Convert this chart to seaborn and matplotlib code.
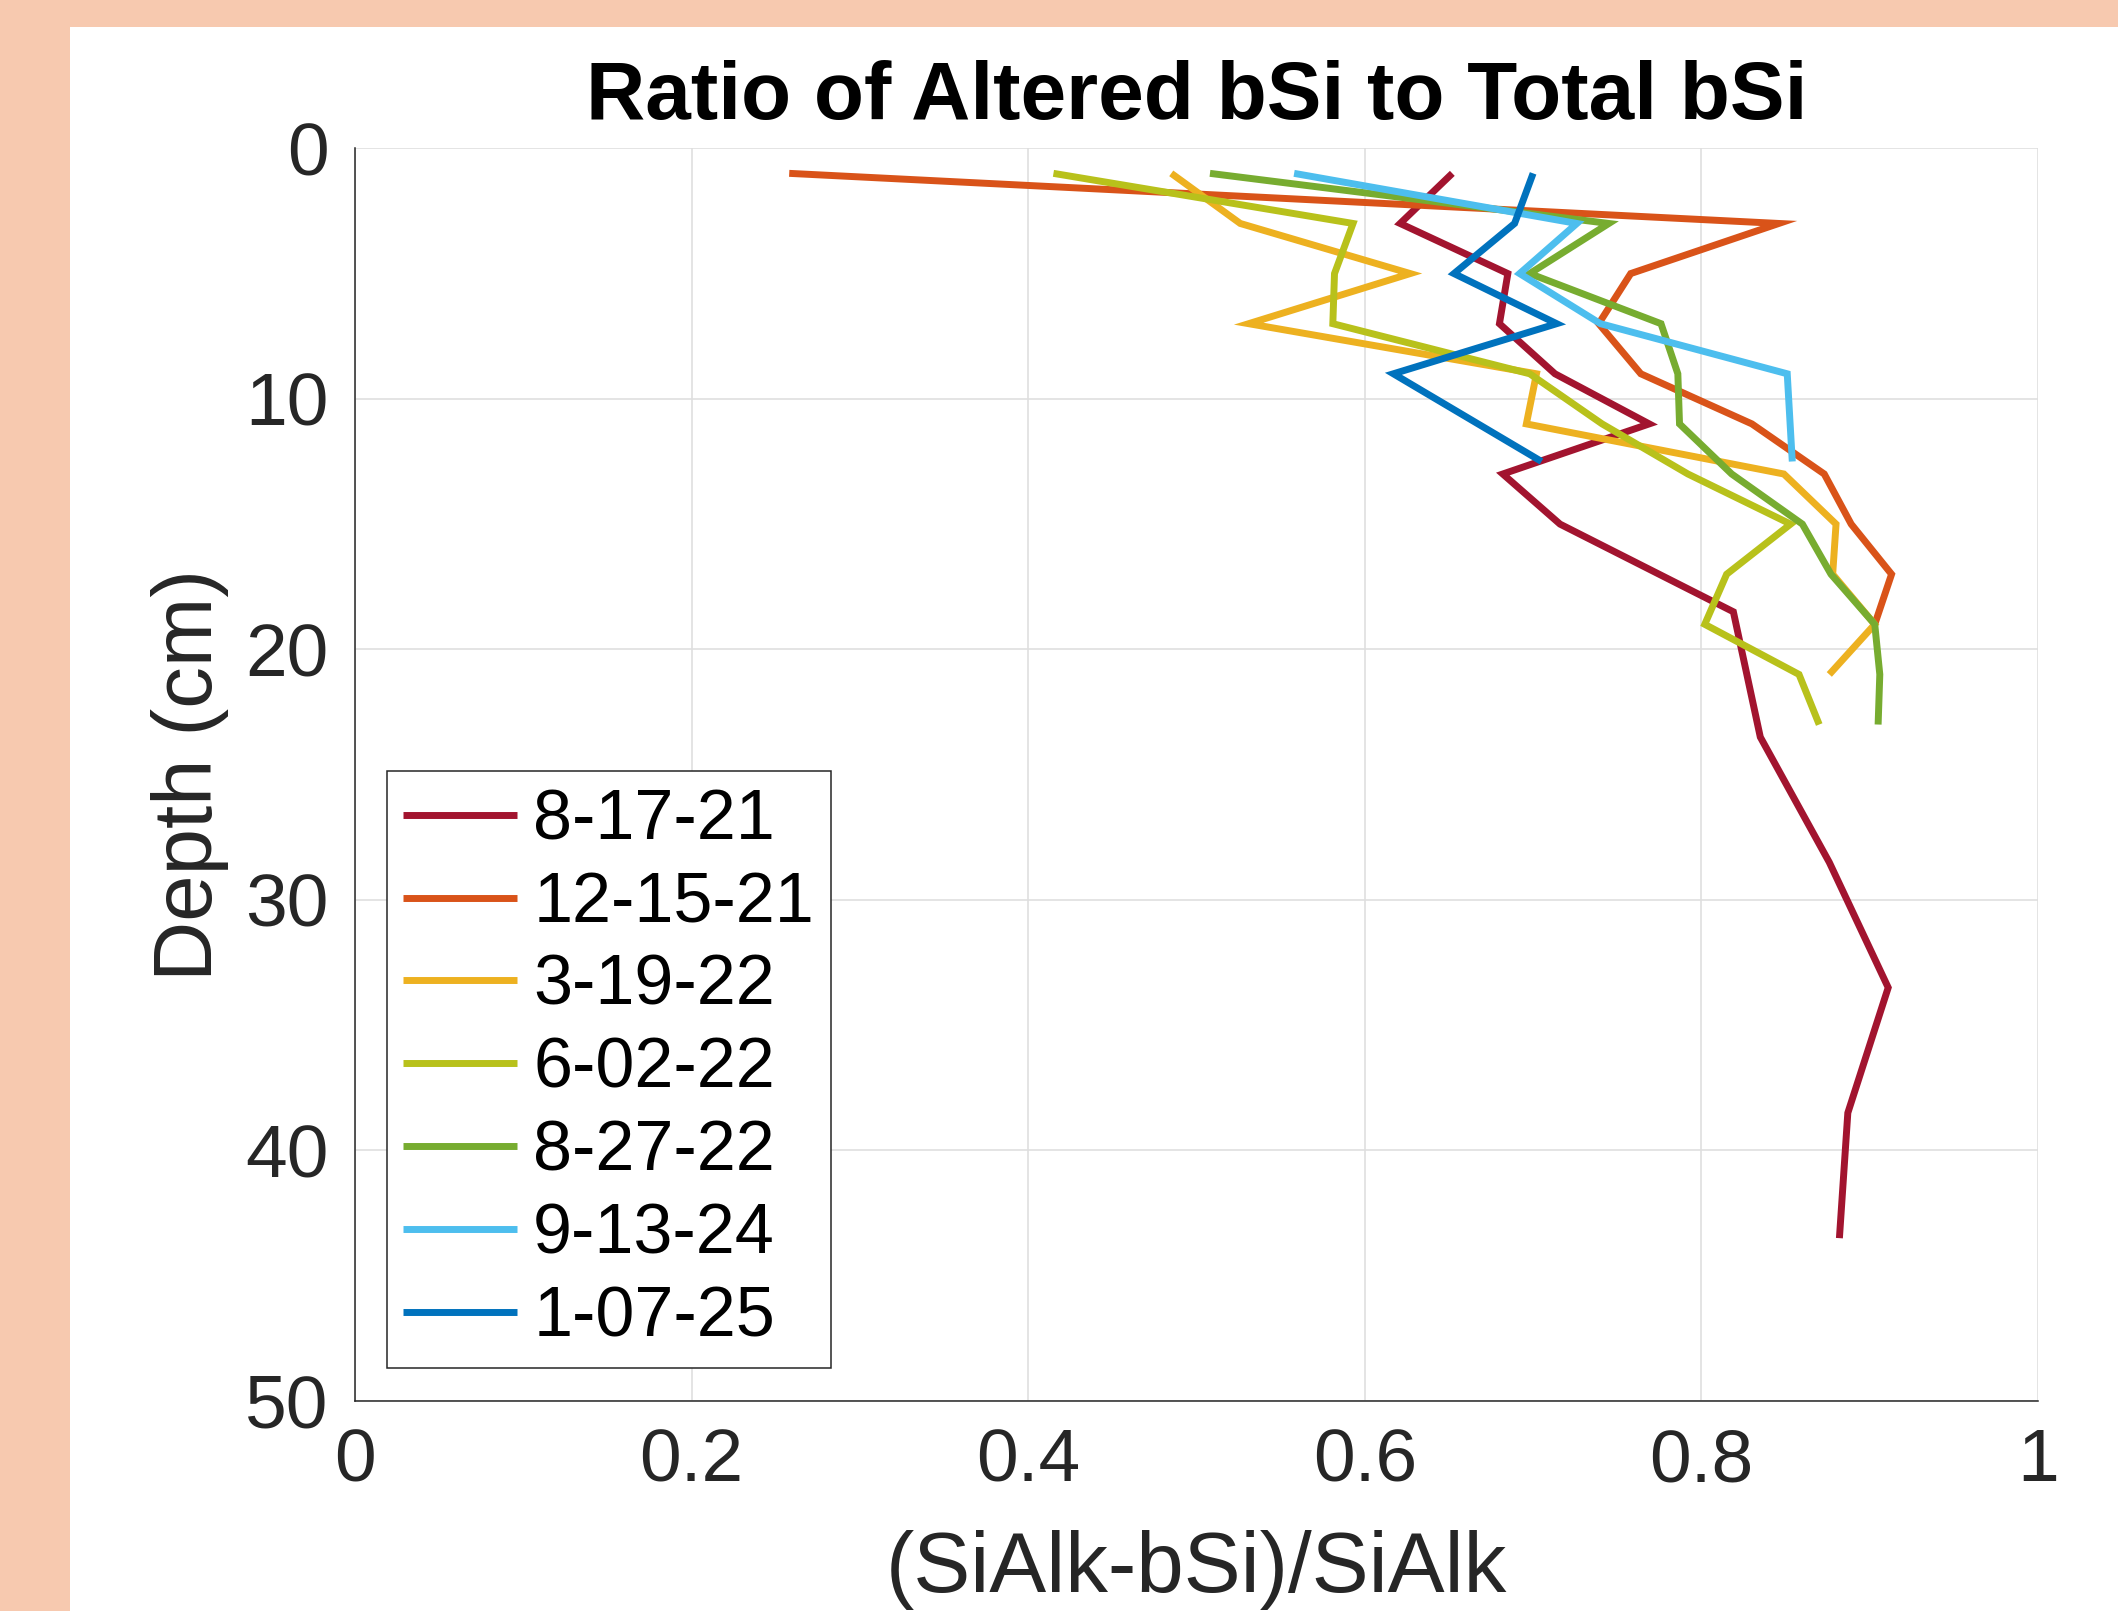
import matplotlib
matplotlib.use("Agg")
import matplotlib.pyplot as plt
from matplotlib.patches import Rectangle
import numpy as np
import pandas as pd
import seaborn as sns

# ---- data ----
dates = ["8-17-21", "12-15-21", "3-19-22", "6-02-22", "8-27-22", "9-13-24", "1-07-25"]
colors = ["#A2142F", "#D95319", "#EDB120", "#B8C11B", "#77AC30", "#4DBEEE", "#0072BD"]

depth_81721 = [1, 3, 5, 7, 9, 11, 13, 15, 18.5, 23.5, 28.5, 33.5, 38.5, 43.5]
ratio_81721 = [0.652, 0.621, 0.685, 0.680, 0.713, 0.769, 0.682, 0.716, 0.819, 0.835, 0.876, 0.911, 0.887, 0.882]

depth_121521 = [1, 3, 5, 7, 9, 11, 13, 15, 17, 19]
ratio_121521 = [0.258, 0.846, 0.758, 0.739, 0.764, 0.830, 0.873, 0.889, 0.913, 0.903]

depth_31922 = [1, 3, 5, 7, 9, 11, 13, 15, 17, 19, 21]
ratio_31922 = [0.485, 0.526, 0.627, 0.531, 0.702, 0.696, 0.849, 0.880, 0.878, 0.903, 0.876]

depth_60222 = [1, 3, 5, 7, 9, 11, 13, 15, 17, 19, 21, 23]
ratio_60222 = [0.415, 0.593, 0.582, 0.581, 0.698, 0.741, 0.792, 0.853, 0.815, 0.802, 0.858, 0.870]

depth_82722 = [1, 3, 5, 7, 9, 11, 13, 15, 17, 19, 21, 23]
ratio_82722 = [0.508, 0.745, 0.698, 0.776, 0.786, 0.787, 0.818, 0.860, 0.877, 0.903, 0.906, 0.905]

depth_91324 = [1, 3, 5, 7, 9, 12.5]
ratio_91324 = [0.558, 0.726, 0.692, 0.740, 0.851, 0.854]

depth_10725 = [1, 3, 5, 7, 9, 12.5]
ratio_10725 = [0.700, 0.689, 0.653, 0.714, 0.617, 0.705]

x_ticks = [0, 0.2, 0.4, 0.6, 0.8, 1]
x_ticklabels = ["0", "0.2", "0.4", "0.6", "0.8", "1"]
y_ticks = [0, 10, 20, 30, 40, 50]

series = [
    (dates[0], depth_81721, ratio_81721),
    (dates[1], depth_121521, ratio_121521),
    (dates[2], depth_31922, ratio_31922),
    (dates[3], depth_60222, ratio_60222),
    (dates[4], depth_82722, ratio_82722),
    (dates[5], depth_91324, ratio_91324),
    (dates[6], depth_10725, ratio_10725),
]
frames = [pd.DataFrame({"date": d, "depth": dep, "ratio": r}) for d, dep, r in series]
df = pd.concat(frames, ignore_index=True)

# ---- styling ----
sns.set_style("white")
plt.rcParams["font.family"] = ["Liberation Sans", "DejaVu Sans"]

W, H = 2118, 1611
fig = plt.figure(figsize=(W / 100, H / 100), dpi=100)
fig.patch.set_facecolor("#F7C9AF")
fig.add_artist(Rectangle((70 / W, 0), 1, 1 - 27 / H, transform=fig.transFigure,
                         facecolor="white", edgecolor="none", zorder=-5))

ax_left, ax_right = 355, 2038
ax_top, ax_bottom = 148.3, 1401
ax = fig.add_axes([ax_left / W, 1 - ax_bottom / H, (ax_right - ax_left) / W, (ax_bottom - ax_top) / H])
ax.set_facecolor("white")

LW = 5.0
palette = dict(zip(dates, colors))
sns.lineplot(data=df, x="ratio", y="depth", hue="date", hue_order=dates, palette=palette,
             estimator=None, sort=False, linewidth=LW, ax=ax, legend=True)
for ln in ax.get_lines():
    ln.set_solid_capstyle("butt")
    ln.set_solid_joinstyle("miter")

ax.set_xlim(0, 1)
ax.set_ylim(50, 0)
ax.set_xticks(x_ticks)
ax.set_xticklabels(x_ticklabels)
ax.set_yticks(y_ticks)

ax.grid(True, color="#DFDFDF", linewidth=1.2)
ax.set_axisbelow(True)
for side in ["top", "right"]:
    ax.spines[side].set_visible(False)
for side in ["left", "bottom"]:
    ax.spines[side].set_color("#262626")
    ax.spines[side].set_linewidth(1.1)

ax.tick_params(direction="in", length=9, width=1.1, colors="#262626",
               labelsize=54, pad=19, labelcolor="#262626")

ax.set_xlabel("(SiAlk-bSi)/SiAlk", fontsize=61.5, color="#262626", labelpad=24)
ax.set_ylabel("Depth (cm)", fontsize=60, color="#262626", labelpad=12)
ax.set_title("Ratio of Altered bSi to Total bSi", fontsize=59, fontweight="bold",
             color="black", pad=21)

handles, labels = ax.get_legend_handles_labels()
for h in handles:
    h.set_linewidth(LW)
leg = ax.legend(handles, labels, loc="lower left", bbox_to_anchor=(0.0188, 0.0263),
                borderaxespad=0, fontsize=50.5, frameon=True, fancybox=False,
                framealpha=1, edgecolor="#262626", labelspacing=0.24,
                handlelength=1.62, handletextpad=0.23, borderpad=0.24)
leg.get_frame().set_linewidth(1.1)
for t in leg.get_texts():
    t.set_color("black")

fig.savefig("out.png", dpi=100)
